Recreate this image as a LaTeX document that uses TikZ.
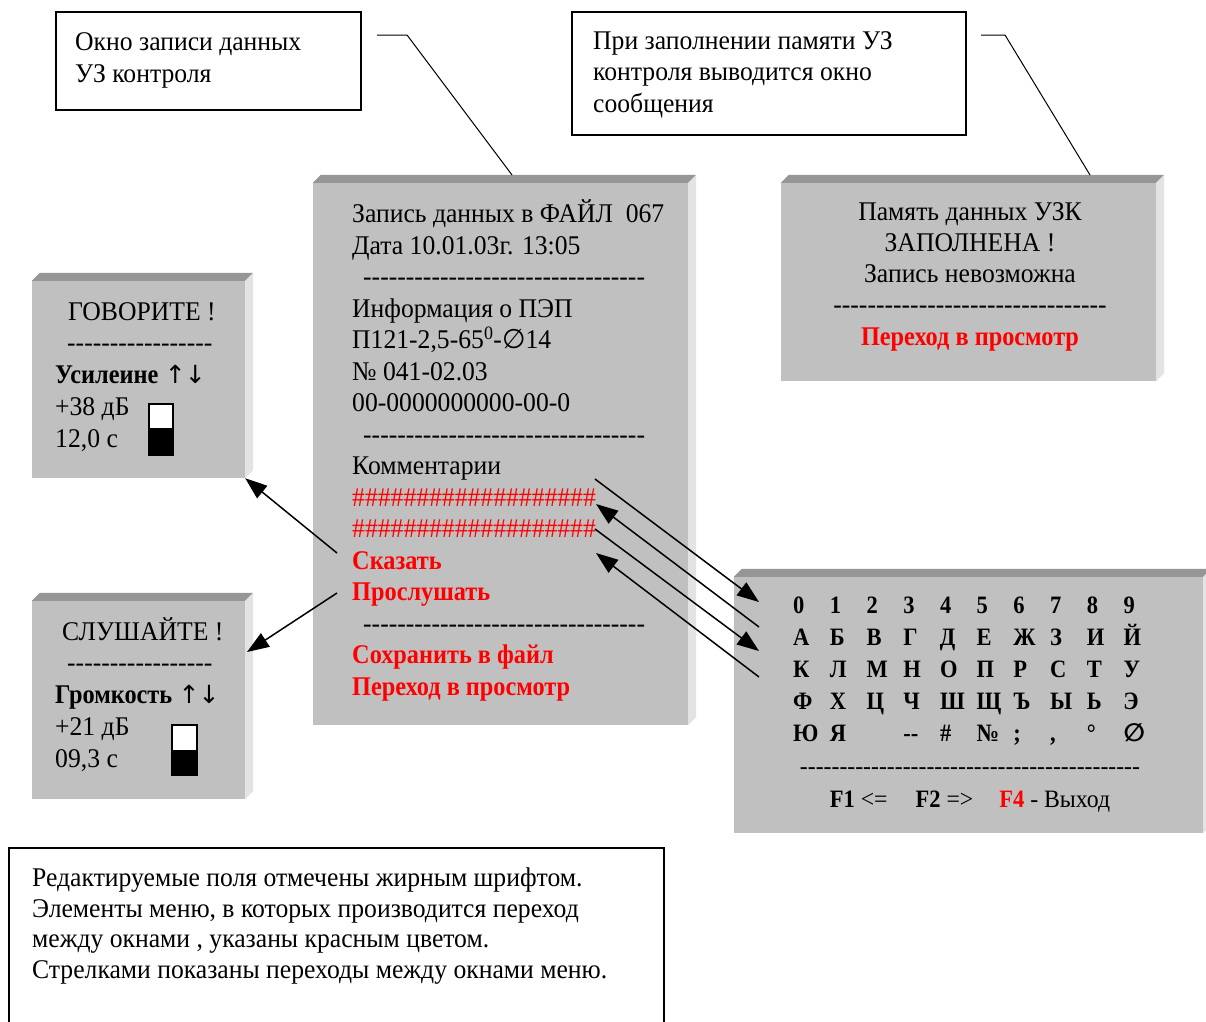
\documentclass[tikz,border=0pt]{standalone}
\usepackage{fontspec}
\setmainfont{Liberation Serif}[FakeStretch=0.95, BoldFeatures={FakeStretch=0.9}]
\newfontfamily\symf{DejaVu Sans}
\usetikzlibrary{arrows.meta, calc, fit}

\definecolor{winface}{HTML}{C0C0C0}
\definecolor{wintop}{HTML}{969696}
\definecolor{winside}{HTML}{E3E3E3}
\definecolor{hotred}{HTML}{FF0000}

\newcommand{\dashes}[1]{\foreach \k in {1,...,#1}{-\kern0pt}}
\newcommand{\hashrow}{\foreach \k in {1,...,19}{\#}}
\newcommand{\hot}[1]{\textcolor{hotred}{\textbf{#1}}}
\newcommand{\updown}{{\symf\fontsize{25}{25}\selectfont ↑\kern-1pt↓}}
\newcommand{\bevel}[1]{%
  \fill[wintop] (#1.north west) -- ++(8,-8) -- ($(#1.north east)+(8,-8)$) -- (#1.north east) -- cycle;
  \fill[winside] (#1.north east) -- ++(8,-8) -- ($(#1.south east)+(8,-8)$) -- (#1.south east) -- cycle;}

\tikzset{
  win/.style={fill=winface, inner sep=0pt},
  note/.style={draw, line width=1.3pt, inner sep=0pt},
  txt/.style={font=\fontsize{27}{31.5}\selectfont, align=left, inner sep=0pt},
  ctxt/.style={font=\fontsize{27}{31.25}\selectfont, align=center, inner sep=0pt},
  lead/.style={line width=1pt},
  go/.style={-{Triangle[length=22pt,width=16pt]}, line width=1.5pt},
}

\begin{document}
\begin{tikzpicture}[x=1pt, y=-1pt]
  \useasboundingbox (0,0) rectangle (1206,1021);
  \clip (0,0) rectangle (1206,1021);

  % callouts (base = last line)
  \node[note, fit={(56,12) (361,110)}] (call1) {};
  \node[txt, font=\fontsize{27}{32}\selectfont, anchor=base west] (call1txt) at (75,82)
    {Окно записи данных\\УЗ контроля};
  \node[note, fit={(572,12) (966,135)}] (call2) {};
  \node[txt, anchor=base west] (call2txt) at (593,112)
    {При заполнении памяти УЗ\\контроля выводится окно\\сообщения};

  % windows
  \node[win, fit={(313,183) (688,725)}] (rec) {};
  \bevel{rec}
  \node[win, fit={(781,183) (1156,381)}] (msg) {};
  \bevel{msg}
  \node[win, fit={(32,281) (245,478)}] (say) {};
  \bevel{say}
  \node[win, fit={(32,601) (245,799)}] (lsn) {};
  \bevel{lsn}
  \node[win, fit={(734,577) (1203,833)}] (kbd) {};
  \bevel{kbd}

  \node[txt, anchor=base west] (rectxt) at (352,695) {%
    Запись данных в ФАЙЛ\ \ 067\\
    Дата 10.01.03г. 13:05\\
    \hspace*{11pt}\dashes{33}\\
    Информация о ПЭП\\
    П121-2,5-65\textsuperscript{0}-{\symf ∅}14\\
    № 041-02.03\\
    00-0000000000-00-0\\
    \hspace*{11pt}\dashes{33}\\
    Комментарии\\
    \textcolor{hotred}{\hashrow}\\
    \textcolor{hotred}{\hashrow}\\
    \hot{Сказать}\\
    \hot{Прослушать}\\
    \hspace*{11pt}\dashes{33}\\
    \hot{Сохранить в файл}\\
    \hot{Переход в просмотр}};

  \node[ctxt, anchor=base] (msgtxt) at (970,345)
    {Память данных УЗК\\ЗАПОЛНЕНА !\\Запись невозможна\\\dashes{32}\\\hot{Переход в просмотр}};

  \node[txt, font=\fontsize{27}{31.75}\selectfont, anchor=base west] (saytxt) at (55,447)
    {\hspace*{13pt}ГОВОРИТЕ !\\\hspace*{12pt}\dashes{17}\\\textbf{Усилеине} \updown\\+38 дБ\\12,0 с};
  \draw[line width=1.5pt, fill=white] (149,404) rectangle (173,455);
  \fill (149,428) rectangle (173,455);

  \node[txt, font=\fontsize{27}{31.75}\selectfont, anchor=base west] (lsntxt) at (55,767)
    {\hspace*{7pt}СЛУШАЙТЕ !\\\hspace*{12pt}\dashes{17}\\\textbf{Громкость} \updown\\+21 дБ\\09,3 с};
  \draw[line width=1.5pt, fill=white] (172,725) rectangle (197,775);
  \fill (172,750) rectangle (197,775);

  \node[inner sep=0pt, font=\fontsize{25}{32}\selectfont\bfseries, anchor=base west] (keys) at (793,613)
    {\begin{tabular}[t]{@{}*{10}{p{36.7pt}@{}}}
      0 & 1 & 2 & 3 & 4 & 5 & 6 & 7 & 8 & 9\\
      А & Б & В & Г & Д & Е & Ж & З & И & Й\\
      К & Л & М & Н & О & П & Р & С & Т & У\\
      Ф & Х & Ц & Ч & Ш & Щ & Ъ & Ы & Ь & Э\\
      Ю & Я &   & -\kern0pt- & \# & № & ; & , & ° & {\symf ∅}
    \end{tabular}};
  \node[ctxt, font=\fontsize{25}{33}\selectfont, anchor=base] (keyfoot) at (970,807)
    {\dashes{43}\\\textbf{F1} <=\hspace{28pt}\textbf{F2} =>\hspace{26pt}\hot{F4} - Выход};

  % legend
  \node[note, fit={(9,848) (664,1040)}] (legend) {};
  \node[txt, font=\fontsize{27}{30.5}\selectfont, anchor=base west] (legendtxt) at (32,978)
    {Редактируемые поля отмечены жирным шрифтом.\\
     Элементы меню, в которых производится переход\\
     между окнами , указаны красным цветом.\\
     Стрелками показаны переходы между окнами меню.};

  % leaders
  \coordinate (lead1) at (377,35);
  \coordinate (rectop) at (512,175);
  \draw[lead] (lead1) -- ++(30,0) -- (rectop);
  \coordinate (lead2) at (981,35);
  \coordinate (msgtop) at (1090,175);
  \draw[lead] (lead2) -- ++(24,0) -- (msgtop);

  % transitions
  \coordinate (fromsay) at (337,553);
  \coordinate (fromlsn) at (337,593);
  \coordinate (lsnin) at (247,652);
  \draw[go] (fromsay) -- (say.south east);
  \draw[go] (fromlsn) -- (lsnin);
  \coordinate (hashA) at (595,479);
  \coordinate (hashB) at (596,504);
  \coordinate (hashC) at (595,529);
  \coordinate (hashD) at (596,553);
  \coordinate (keyA) at (759,602);
  \coordinate (keyB) at (759,627);
  \coordinate (keyC) at (759,651);
  \coordinate (keyD) at (759,677);
  \draw[go] (hashA) -- (keyA);
  \draw[go] (keyB) -- (hashB);
  \draw[go] (hashC) -- (keyC);
  \draw[go] (keyD) -- (hashD);
\end{tikzpicture}
\end{document}
